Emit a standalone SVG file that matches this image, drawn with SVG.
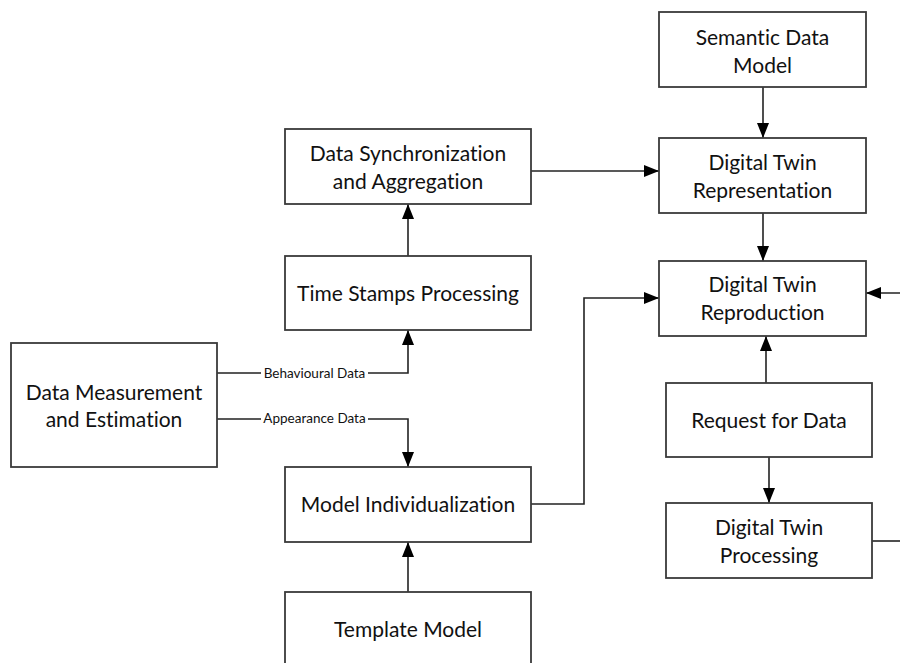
<svg xmlns="http://www.w3.org/2000/svg" width="900" height="663" viewBox="0 0 900 663">
<style>
.box{fill:#fff;stroke:#3a3a3a;stroke-width:1.8}
.t{font-family:Lato,"Open Sans",sans-serif;font-size:21px;fill:#111;text-anchor:middle;font-variant-ligatures:none}
.l{font-family:Lato,"Open Sans",sans-serif;font-size:13.5px;fill:#111;text-anchor:middle;font-variant-ligatures:none}
.c{fill:none;stroke:#222;stroke-width:1.6}
</style>
<defs>
<marker id="ah" viewBox="0 0 15 12" refX="15" refY="6" markerWidth="15" markerHeight="12" markerUnits="userSpaceOnUse" orient="auto">
<path d="M0,0 L15,6 L0,12 Z" fill="#000"/>
</marker>
</defs>
<rect width="900" height="663" fill="#fff"/>
<g id="connectors">
<path class="c" d="M763,87 V138" marker-end="url(#ah)"/>
<path class="c" d="M763,213 V261" marker-end="url(#ah)"/>
<path class="c" d="M900,293 H866" marker-end="url(#ah)"/>
<path class="c" d="M531,171 H659" marker-end="url(#ah)"/>
<path class="c" d="M408,256 V204" marker-end="url(#ah)"/>
<path class="c" d="M531,504 H584 V298 H659" marker-end="url(#ah)"/>
<path class="c" d="M217,373 H408 V330" marker-end="url(#ah)"/>
<path class="c" d="M217,419 H408 V467" marker-end="url(#ah)"/>
<path class="c" d="M408,592 V542" marker-end="url(#ah)"/>
<path class="c" d="M766,383 V336" marker-end="url(#ah)"/>
<path class="c" d="M769,457 V503" marker-end="url(#ah)"/>
<path class="c" d="M872,541 H900"/>
<rect x="261" y="366" width="107" height="14" fill="#fff"/>
<text class="l" x="314.5" y="378">Behavioural Data</text>
<rect x="261" y="411" width="107" height="14" fill="#fff"/>
<text class="l" x="314.5" y="423">Appearance Data</text>
</g>
<g id="semantic">
<rect class="box" x="659" y="12" width="207" height="75"/>
<text class="t" x="762.5" y="45">Semantic Data</text>
<text class="t" x="762.5" y="73">Model</text>
</g>
<g id="representation">
<rect class="box" x="659" y="138" width="207" height="75"/>
<text class="t" x="762.5" y="170">Digital Twin</text>
<text class="t" x="762.5" y="198">Representation</text>
</g>
<g id="reproduction">
<rect class="box" x="659" y="261" width="207" height="75"/>
<text class="t" x="762.5" y="292">Digital Twin</text>
<text class="t" x="762.5" y="320">Reproduction</text>
</g>
<g id="sync">
<rect class="box" x="285" y="129" width="246" height="75"/>
<text class="t" x="408" y="161">Data Synchronization</text>
<text class="t" x="408" y="189">and Aggregation</text>
</g>
<g id="timestamps">
<rect class="box" x="285" y="256" width="246" height="74"/>
<text class="t" x="408" y="301">Time Stamps Processing</text>
</g>
<g id="measurement">
<rect class="box" x="11" y="343" width="206" height="124"/>
<text class="t" x="114" y="400">Data Measurement</text>
<text class="t" x="114" y="427">and Estimation</text>
</g>
<g id="individualization">
<rect class="box" x="285" y="467" width="246" height="75"/>
<text class="t" x="408" y="512">Model Individualization</text>
</g>
<g id="template">
<rect class="box" x="285" y="592" width="246" height="80"/>
<text class="t" x="408" y="637">Template Model</text>
</g>
<g id="request">
<rect class="box" x="666" y="383" width="206" height="74"/>
<text class="t" x="769" y="428">Request for Data</text>
</g>
<g id="processing">
<rect class="box" x="666" y="503" width="206" height="75"/>
<text class="t" x="769" y="535">Digital Twin</text>
<text class="t" x="769" y="563">Processing</text>
</g>
</svg>
